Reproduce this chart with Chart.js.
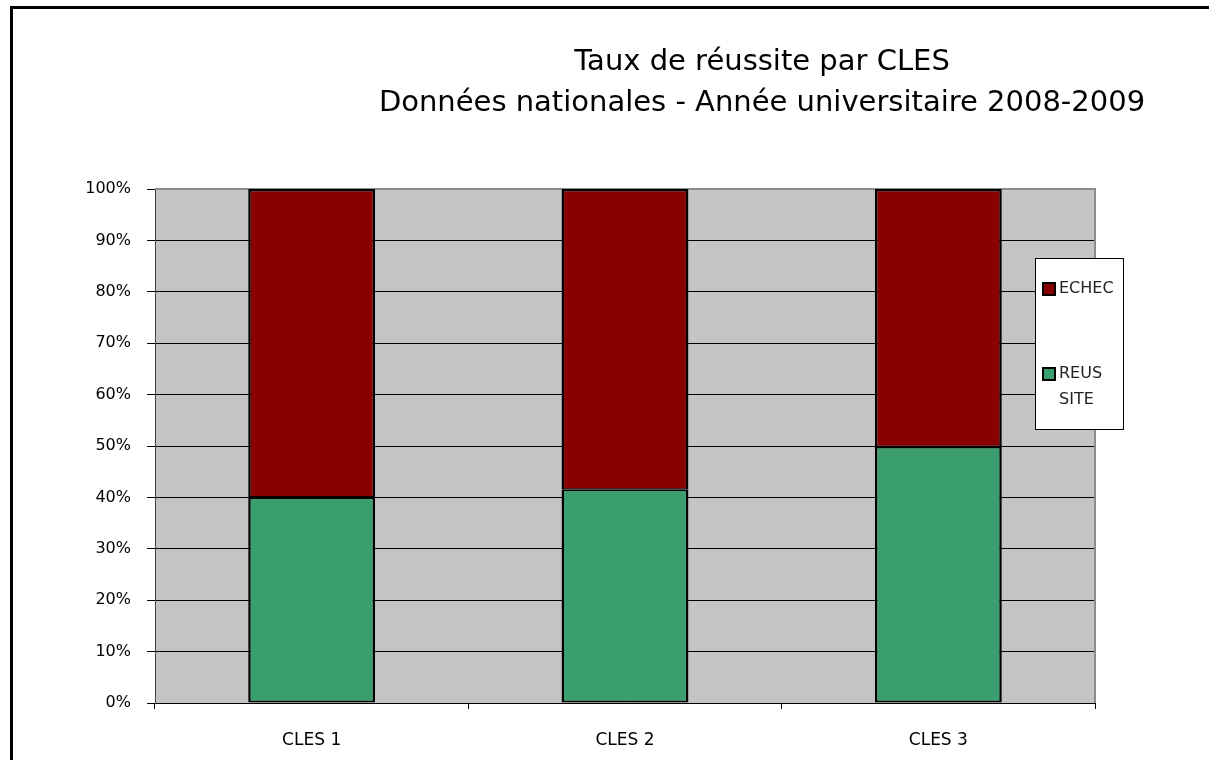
<!DOCTYPE html>
<html lang="fr">
<head>
<meta charset="UTF-8">
<title>Taux de réussite par CLES</title>
<script src="https://cdn.jsdelivr.net/npm/chart.js@4.4.0/dist/chart.umd.min.js"></script>
<style>
    body { margin: 0; background: #fff; }
    canvas { display: block; }
</style>
</head>
<body>
<canvas id="myChart" width="1209" height="760"></canvas>
<script>
    // donnees (en %)
    var categories = ['CLES 1', 'CLES 2', 'CLES 3'];
    var reussite = [40, 41.5, 49.8];
    var echec = [60, 58.5, 50.2];
    var titleLines = ['Taux de réussite par CLES', 'Données nationales - Année universitaire 2008-2009'];
    var legendItems = [
        { lines: ['ECHEC'], color: '#880000' },
        { lines: ['REUS', 'SITE'], color: '#3A9E6E' }
    ];

    var FONT = '"DejaVu Sans", sans-serif';

    var decor = {
        id: 'decor',
        beforeDraw: function (chart) {
            var c = chart.ctx, a = chart.chartArea;
            c.save();
            c.fillStyle = '#fff';
            c.fillRect(0, 0, chart.width, chart.height);
            // cadre
            c.strokeStyle = '#000';
            c.lineWidth = 3;
            c.strokeRect(11.5, 7.5, 1400, 900);
            // zone de traçage grise
            c.fillStyle = '#C4C4C4';
            c.fillRect(a.left, a.top, a.right - a.left, a.bottom - a.top);
            c.restore();
        },
        beforeDatasetsDraw: function (chart) {
            var c = chart.ctx, a = chart.chartArea;
            c.save();
            c.strokeStyle = '#8c8c8c';
            c.lineWidth = 2;
            c.beginPath();
            c.moveTo(a.left, a.top);
            c.lineTo(a.right, a.top);
            c.lineTo(a.right, a.bottom);
            c.stroke();
            c.restore();
        },
        afterDraw: function (chart) {
            var c = chart.ctx;
            c.save();
            // titre
            c.fillStyle = '#000';
            c.textAlign = 'center';
            c.textBaseline = 'middle';
            c.font = '29px ' + FONT;
            c.fillText(titleLines[0], 762, 62);
            c.fillText(titleLines[1], 762, 103);
            // legende
            c.fillStyle = '#fff';
            c.fillRect(1035, 258, 88, 171);
            c.strokeStyle = '#000';
            c.lineWidth = 1;
            c.strokeRect(1035.5, 258.5, 88, 171);
            var ys = [289, 374];
            c.font = '16px ' + FONT;
            c.textAlign = 'left';
            for (var i = 0; i < legendItems.length; i++) {
                var it = legendItems[i];
                c.fillStyle = it.color;
                c.fillRect(1043, ys[i] - 6, 12, 12);
                c.lineWidth = 2;
                c.strokeStyle = '#000';
                c.strokeRect(1043, ys[i] - 6, 12, 12);
                c.fillStyle = '#222';
                for (var j = 0; j < it.lines.length; j++) {
                    c.fillText(it.lines[j], 1059, ys[i] + j * 26);
                }
            }
            c.restore();
        }
    };

    var ctx = document.getElementById('myChart');
    var myChart = new Chart(ctx, {
        type: 'bar',
        data: {
            labels: categories,
            datasets: [{
                label: 'REUSSITE',
                data: reussite,
                backgroundColor: '#3A9E6E',
                borderColor: '#000',
                borderWidth: { left: 2.5, right: 2.5, top: 1.5, bottom: 2 },
                borderSkipped: false
            }, {
                label: 'ECHEC',
                data: echec,
                backgroundColor: '#880000',
                borderColor: '#000',
                borderWidth: { left: 2.5, right: 2.5, top: 2.5, bottom: 1.5 },
                borderSkipped: false
            }]
        },
        options: {
            responsive: false,
            animation: false,
            events: [],
            categoryPercentage: 1,
            barPercentage: 0.405,
            layout: { padding: { left: 0, right: 114, top: 189, bottom: 0 } },
            plugins: {
                legend: { display: false },
                title: { display: false },
                tooltip: { enabled: false }
            },
            scales: {
                x: {
                    stacked: true,
                    afterFit: function (s) { s.height = 57; },
                    grid: { drawOnChartArea: false, tickLength: 6, color: '#000', offset: true },
                    border: { color: '#000', width: 1 },
                    ticks: { color: '#000', padding: 21, font: { family: FONT, size: 17 } }
                },
                y: {
                    stacked: true,
                    min: 0,
                    max: 100,
                    afterFit: function (s) { s.width = 155; },
                    grid: {
                        color: function (c) { return c.tick && c.tick.value === 100 ? '#8c8c8c' : '#000'; },
                        tickColor: '#000',
                        tickLength: 8
                    },
                    border: { color: '#404040', width: 1 },
                    ticks: {
                        stepSize: 10,
                        padding: 16,
                        color: '#000',
                        font: { family: FONT, size: 16 },
                        callback: function (v) { return v + '%'; }
                    }
                }
            }
        },
        plugins: [decor]
    });
</script>
</body>
</html>
